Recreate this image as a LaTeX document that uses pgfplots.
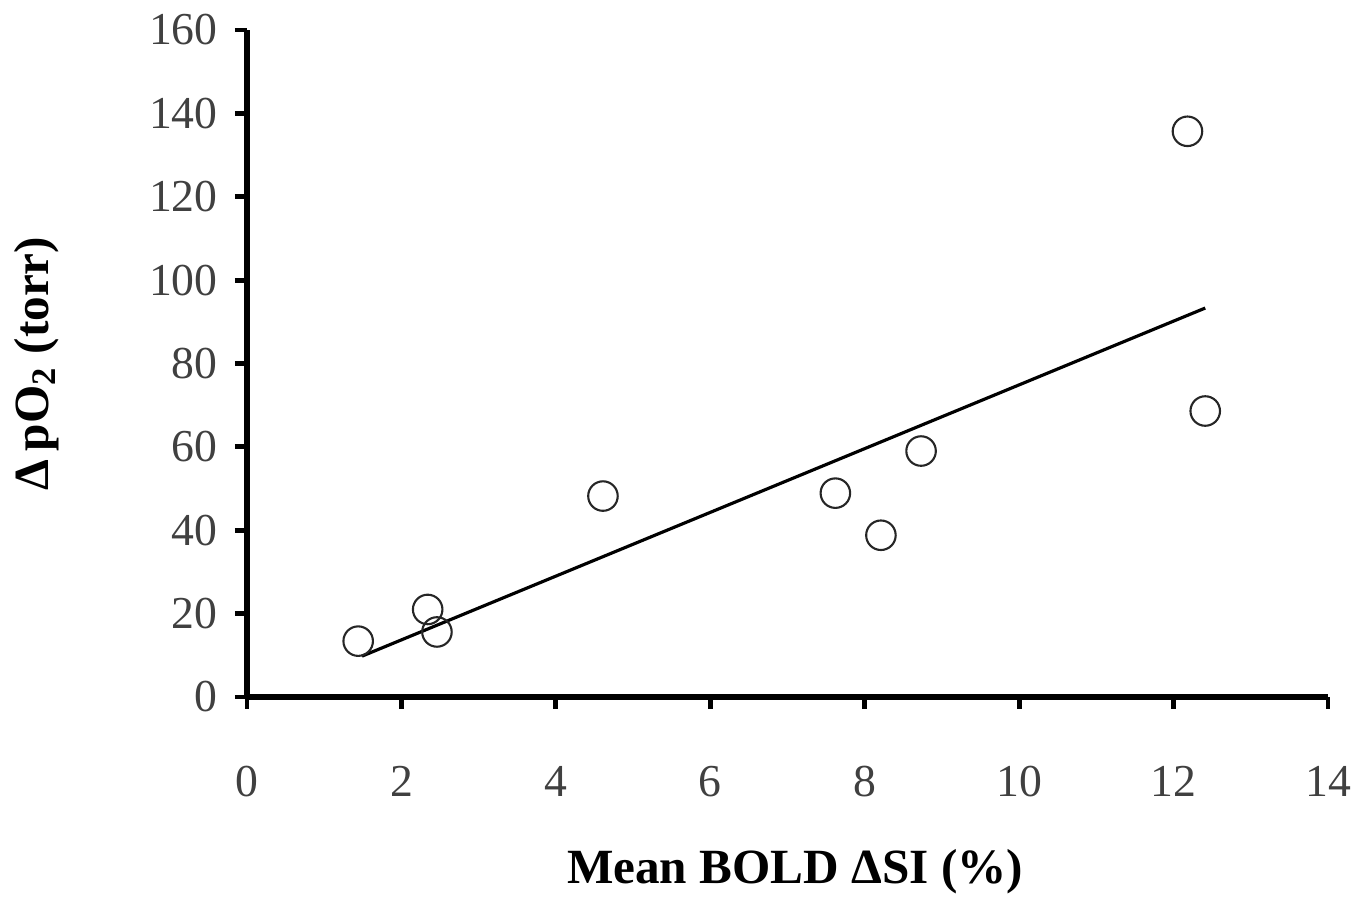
\documentclass[border=0pt]{standalone}
\usepackage{pgfplots}
\pgfplotsset{compat=1.18}
\usepackage{fontspec}
\setmainfont{Liberation Serif}
\begin{document}
\begin{tikzpicture}
\useasboundingbox (-2.47cm,-2.07cm) rectangle (11.21cm,6.97cm);
\begin{axis}[
  scale only axis, width=10.81cm, height=6.67cm,
  xmin=0, xmax=14, ymin=0, ymax=160,
  axis x line=bottom, axis y line=left,
  axis line style={line width=1.6pt, -},
  xtick={0,2,...,14}, ytick={0,20,...,160},
  tick align=outside, major tick length=0.12cm,
  tick style={line width=1.4pt, black},
  /pgf/number format/assume math mode=true,
  tick label style={font=\fontsize{13}{15}\selectfont, text=black!75},
  xticklabel style={yshift=-0.45cm},
  yticklabel style={xshift=-0.05cm},
  xlabel={\textbf{Mean BOLD ΔSI (\%)}},
  ylabel={\textbf{Δ\,pO\textsubscript{2} (torr)}},
  label style={font=\fontsize{14}{16}\selectfont},
  xlabel style={at={(axis description cs:0.507,-0.262)}, anchor=center},
  ylabel style={at={(axis description cs:-0.195,0.5)}, anchor=center, rotate=0},
  clip=false,
]
\addplot[only marks, mark=o, mark size=4.2pt, mark options={line width=0.6pt, black!85}] coordinates {
  (1.44,13.4) (2.34,21) (2.46,15.6) (4.61,48.2) (7.62,48.9)
  (8.21,38.8) (8.73,59) (12.18,135.7) (12.41,68.6)
};
\addplot[black, line width=0.9pt] coordinates {(1.49,9.8) (12.41,93.3)};
\end{axis}
\end{tikzpicture}
\end{document}
